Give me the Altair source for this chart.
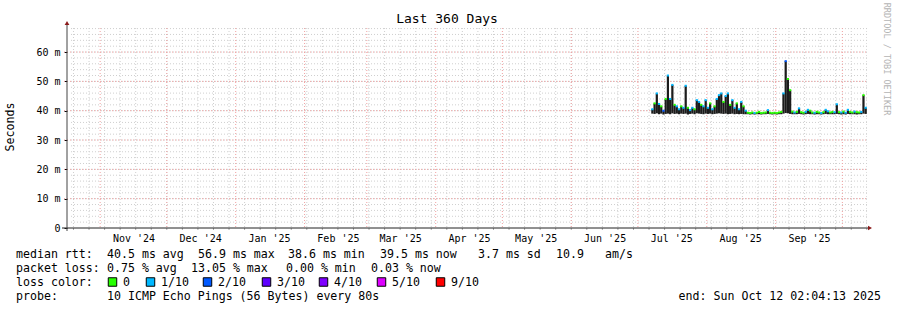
import altair as alt
import pandas as pd

# ---------------- data ----------------
first_day = "2025-07-07"
median_ms = [
    40.5, 42.5, 45.9, 42.3, 41.5, 40.0, 44.0, 52.0, 44.0, 48.8,
    42.0, 41.5, 40.5, 41.5, 41.0, 48.5, 41.0, 40.2, 41.0, 40.5,
    43.6, 43.0, 42.0, 41.5, 43.6, 41.0, 42.5, 40.5, 41.5, 44.0,
    45.3, 45.9, 43.0, 45.0, 45.9, 42.0, 43.6, 41.0, 42.5, 40.5,
    43.0, 41.5, 40.0, 39.3, 39.2, 39.4, 39.2, 39.3, 39.6, 39.2,
    39.3, 39.4, 40.2, 39.3, 39.2, 39.3, 39.2, 39.4, 39.6, 45.9,
    56.9, 50.8, 47.0, 39.7, 39.4, 39.6, 40.8, 39.5, 39.3, 39.6,
    40.3, 40.0, 39.4, 39.3, 39.6, 39.4, 39.2, 39.5, 40.3, 39.8,
    39.4, 39.6, 39.5, 42.2, 39.5, 39.4, 39.7, 39.3, 40.3, 39.6,
    39.4, 39.7, 39.5, 39.4, 39.6, 45.3, 41.0,
]
smoke_low_ms = [
    39.0, 38.9, 39.1, 38.8, 39.0, 38.7, 38.9, 39.0, 38.8, 39.1,
    38.9, 39.0, 38.8, 39.0, 38.9, 39.0, 38.7, 38.9, 39.0, 38.8,
    39.1, 39.0, 38.9, 38.8, 39.0, 38.9, 39.0, 38.8, 38.9, 39.0,
    39.1, 39.0, 38.9, 39.0, 38.8, 38.9, 39.0, 38.8, 38.9, 38.8,
    38.9, 38.8, 38.8, 38.8, 38.7, 38.8, 38.7, 38.8, 38.8, 38.7,
    38.8, 38.8, 38.9, 38.8, 38.7, 38.8, 38.7, 38.8, 38.8, 39.0,
    39.2, 39.1, 38.9, 38.8, 38.8, 38.8, 38.9, 38.8, 38.7, 38.8,
    38.9, 38.8, 38.8, 38.7, 38.8, 38.8, 38.7, 38.8, 38.9, 38.8,
    38.8, 38.8, 38.8, 38.9, 38.8, 38.7, 38.8, 38.7, 38.9, 38.8,
    38.8, 38.8, 38.7, 38.8, 38.8, 39.0, 38.9,
]
loss_level = [
    1, 0, 1, 1, 0, 2, 0, 1, 1, 1,
    0, 1, 1, 0, 1, 1, 0, 1, 1, 0,
    1, 1, 0, 1, 1, 1, 0, 1, 0, 1,
    1, 1, 0, 1, 1, 0, 1, 1, 0, 1,
    1, 0, 1, 0, 0, 0, 1, 0, 0, 0,
    0, 0, 1, 0, 0, 0, 0, 0, 0, 1,
    2, 0, 0, 0, 1, 0, 1, 0, 0, 1,
    1, 0, 0, 1, 0, 0, 1, 0, 1, 1,
    0, 0, 1, 1, 0, 1, 0, 1, 1, 0,
    0, 1, 0, 0, 1, 0, 1,
]

range_start = "2024-10-17T02:04:13Z"
range_end = "2025-10-12T02:04:13Z"

month_starts = ["2024-11-01", "2024-12-01", "2025-01-01", "2025-02-01", "2025-03-01",
                "2025-04-01", "2025-05-01", "2025-06-01", "2025-07-01", "2025-08-01",
                "2025-09-01", "2025-10-01"]
month_label_days = ["2024-11-16", "2024-12-16", "2025-01-16", "2025-02-16", "2025-03-16",
                    "2025-04-16", "2025-05-16", "2025-06-16", "2025-07-16", "2025-08-16",
                    "2025-09-16"]
week_starts = pd.date_range("2024-10-20", "2025-10-12", freq="7D", tz="UTC")

y_major = [0, 10, 20, 30, 40, 50, 60]
y_minor = list(range(2, 69, 2))

loss_labels = ["0", "1/10", "2/10", "3/10", "4/10", "5/10", "9/10"]
loss_colors = ["#26ff00", "#00b8ff", "#0059ff", "#5e00ff", "#7e00ff", "#dd00ff", "#ff0000"]

title_text = "Last 360 Days"
y_title_text = "Seconds"
watermark_text = "RRDTOOL / TOBI OETIKER"
row1_text = ["median rtt:", "40.5 ms avg", "56.9 ms max", "38.6 ms min", "39.5 ms now",
             "3.7 ms sd", "10.9", "am/s"]
row2_text = ["packet loss:", "0.75 % avg", "13.05 % max", "0.00 % min", "0.03 % now"]
row3_text = ["loss color:"]
row4_text = ["probe:", "10 ICMP Echo Pings (56 Bytes) every 80s"]
end_text = "end: Sun Oct 12 02:04:13 2025"

# ---------------- layout (pixels) ----------------
W, H = 800, 200
PAD_L, PAD_T = 67, 28
row1_x = [16, 107, 198, 288, 380, 478, 556, 605]
row2_x = [16, 107, 191, 286, 371]
row3_x = [16]
row4_x = [16, 107]
row_base_y = [258, 272, 286, 300]
square_cx = [112.5, 150.5, 207.5, 266.5, 323.5, 381.5, 440.5]
square_label_x = [123, 161, 218, 277, 334, 392, 451]
square_cy = 282

FONT = "DejaVu Sans Mono"


def ms(s):
    ts = pd.Timestamp(s)
    if ts.tzinfo is None:
        ts = ts.tz_localize("UTC")
    return int(ts.value // 10**6)


def iso(ts):
    return ts.strftime("%Y-%m-%dT%H:%M:%SZ")


days = pd.date_range(first_day, periods=len(median_ms), freq="D", tz="UTC")
df = pd.DataFrame({
    "t": [iso(d) for d in days],
    "t2": [iso(d + pd.Timedelta(days=1)) for d in days],
    "median": median_ms,
    "low": smoke_low_ms,
    "loss": [loss_labels[k] for k in loss_level],
})

xs = alt.Scale(type="utc", domain=[ms(range_start), ms(range_end)], nice=False)
ys = alt.Scale(domain=[0, 68.2], nice=False, zero=True)

x_axis = alt.Axis(values=[ms(d) for d in month_label_days],
                  labelExpr="utcFormat(datum.value, \"%b '%y\")",
                  ticks=False, domain=False, grid=False, title=None,
                  labelFont=FONT, labelFontSize=10, labelColor="#000",
                  labelPadding=5, labelOverlap=False, labelFlush=False)
y_axis = alt.Axis(values=y_major,
                  labelExpr="datum.value == 0 ? '0' : datum.value + ' m'",
                  tickSize=3, tickColor="#000", domain=False, grid=False, title=None,
                  labelFont=FONT, labelFontSize=10, labelColor="#000", labelPadding=4)

X = lambda f: alt.X(f, scale=xs, axis=x_axis)
Y = lambda f: alt.Y(f, scale=ys, axis=y_axis)

one = pd.DataFrame({"k": [0]})

# grids
hminor = alt.Chart(pd.DataFrame({"v": y_minor})).mark_rule(
    color="#cfcfcf", strokeDash=[1, 2], strokeWidth=1).encode(
    y=Y("v:Q"), x=alt.value(4), x2=alt.value(W))
hmajor = alt.Chart(pd.DataFrame({"v": [v for v in y_major if v > 0]})).mark_rule(
    color="#f0a0a0", strokeDash=[1, 2], strokeWidth=1).encode(
    y=Y("v:Q"), x=alt.value(-3), x2=alt.value(W))
vminor = alt.Chart(pd.DataFrame({"d": [iso(w) for w in week_starts]})).mark_rule(
    color="#cfcfcf", strokeDash=[1, 2], strokeWidth=1, clip=True).encode(
    x=X("d:T"), y=alt.value(0), y2=alt.value(H))
vmajor = alt.Chart(pd.DataFrame({"d": [s + "T00:00:00Z" for s in month_starts]})).mark_rule(
    color="#f0a0a0", strokeDash=[1, 2], strokeWidth=1, clip=True).encode(
    x=X("d:T"), y=alt.value(0), y2=alt.value(H + 3))
vminor_ticks = alt.Chart(pd.DataFrame({"d": [iso(w) for w in week_starts]})).mark_rule(
    color="#aaaaaa", strokeWidth=1, clip=False).encode(
    x=X("d:T"), y=alt.value(H), y2=alt.value(H + 2))

# smoke + median
smoke = alt.Chart(df).mark_rect(color="#1c1c1c").encode(
    x=X("t:T"), x2="t2:T", y=Y("low:Q"), y2="median:Q")
median = alt.Chart(df).mark_rule(strokeWidth=2).encode(
    x=X("t:T"), x2="t2:T", y=Y("median:Q"),
    color=alt.Color("loss:N", scale=alt.Scale(domain=loss_labels, range=loss_colors),
                    legend=None))

# axes lines and arrows
x_line = alt.Chart(one).mark_rule(color="#222", strokeWidth=1).encode(
    x=alt.value(-5), x2=alt.value(W + 2), y=alt.value(H))
y_line = alt.Chart(one).mark_rule(color="#444", strokeWidth=1).encode(
    y=alt.value(-4), y2=alt.value(H + 3), x=alt.value(0))
arrow_up = alt.Chart(one).mark_point(shape="triangle-up", filled=True, color="#8b1a1a",
                                     size=22, opacity=1).encode(
    x=alt.value(0), y=alt.value(-5))
arrow_right = alt.Chart(one).mark_point(shape="triangle-right", filled=True, color="#8b1a1a",
                                        size=22, opacity=1).encode(
    x=alt.value(W + 3), y=alt.value(H))

layers = [hminor, vminor, hmajor, vmajor, vminor_ticks, smoke, median, x_line, y_line,
          arrow_up, arrow_right]


def txt(s, x, y, size=11.6, align="left", baseline="alphabetic", angle=0, color="#000"):
    m = alt.Chart(pd.DataFrame({"s": [s]})).mark_text(
        font=FONT, fontSize=size, align=align, baseline=baseline, angle=angle, color=color)
    return m.encode(text="s:N", x=alt.value(x - PAD_L), y=alt.value(y - PAD_T))


layers.append(txt(title_text, 447, 19, size=13, align="center", baseline="middle"))
layers.append(txt(y_title_text, 11, 127, size=11.6, align="center", baseline="middle",
                  angle=270))
layers.append(txt(watermark_text, 887, 59, size=8.5, align="center", baseline="middle",
                  angle=90, color="#b4b4b4"))

for row, xs_pos, by in [(row1_text, row1_x, row_base_y[0]), (row2_text, row2_x, row_base_y[1]),
                        (row3_text, row3_x, row_base_y[2]), (row4_text, row4_x, row_base_y[3])]:
    for s, px in zip(row, xs_pos):
        layers.append(txt(s, px, by))
layers.append(txt(end_text, 881, row_base_y[3], align="right"))

for lab, col, cx, lx in zip(loss_labels, loss_colors, square_cx, square_label_x):
    sq = alt.Chart(pd.DataFrame({"s": [lab]})).mark_square(
        size=72, filled=True, fill=col, stroke="#000", strokeWidth=1, opacity=1).encode(
        x=alt.value(cx - PAD_L), y=alt.value(square_cy - PAD_T))
    layers.append(sq)
    layers.append(txt(lab, lx, row_base_y[2]))

chart = alt.layer(*layers).properties(
    width=W, height=H,
    autosize=alt.AutoSizeParams(type="none"),
    padding={"left": PAD_L, "top": PAD_T, "right": 897 - PAD_L - W, "bottom": 310 - PAD_T - H},
    background="white",
).configure_view(stroke=None)

chart.save("out.html", embed_options={"renderer": "svg", "actions": False})
